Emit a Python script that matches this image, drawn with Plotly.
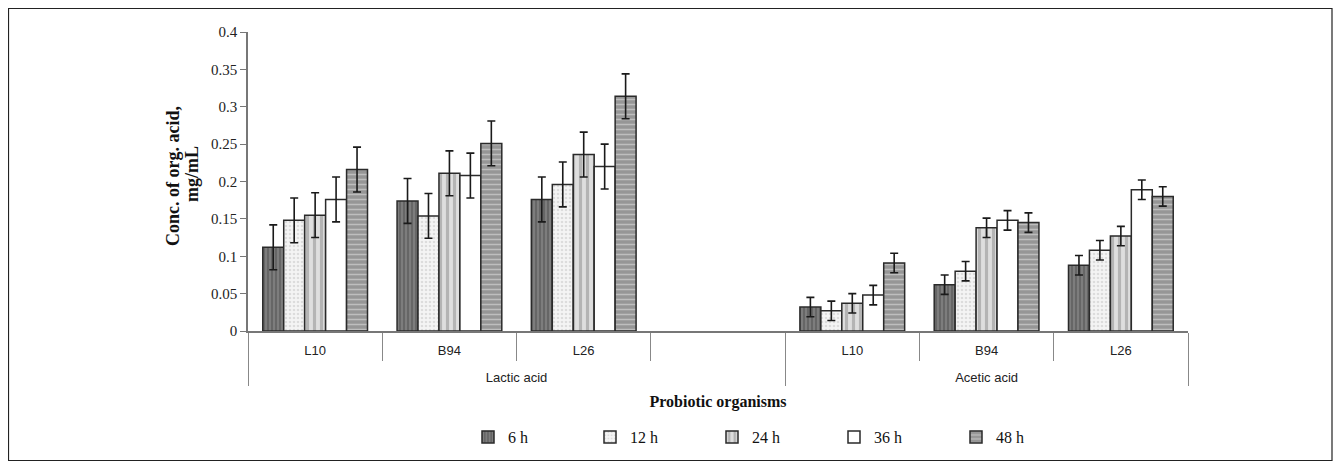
import plotly.graph_objects as go

acids = ["Lactic acid"] * 4 + ["Acetic acid"] * 3
strains = ["L10", "B94", "L26", " ", "L10", "B94", "L26"]
series_names = ["6 h", "12 h", "24 h", "36 h", "48 h"]

v6 = [0.112, 0.174, 0.176, None, 0.032, 0.062, 0.088]
v12 = [0.148, 0.154, 0.196, None, 0.027, 0.080, 0.108]
v24 = [0.155, 0.211, 0.236, None, 0.037, 0.138, 0.127]
v36 = [0.176, 0.208, 0.220, None, 0.048, 0.148, 0.189]
v48 = [0.216, 0.251, 0.314, None, 0.091, 0.145, 0.180]
err = [0.030, 0.030, 0.030, None, 0.013, 0.013, 0.013]

y_title_lines = ["Conc. of org. acid,", "mg/mL"]
x_title = "Probiotic organisms"

values = [v6, v12, v24, v36, v48]
styles = [
    dict(color="#707070", pattern=dict(shape="|", fgcolor="#a0a0a0", bgcolor="#666666", size=4, solidity=0.4)),
    dict(color="#efefef", pattern=dict(shape=".", fgcolor="#c4c4c4", bgcolor="#f4f4f4", size=4, solidity=0.35)),
    dict(color="#c0c0c0", pattern=dict(shape="|", fgcolor="#8a8a8a", bgcolor="#dedede", size=7, solidity=0.45)),
    dict(color="#ffffff"),
    dict(color="#9c9c9c", pattern=dict(shape="-", fgcolor="#e6e6e6", bgcolor="#969696", size=5, solidity=0.3)),
]

# outer (group) labels pushed one line lower, as in the reference
acid_labels = ["<br>" + a for a in acids]

W, H = 1325, 453
ML, MR, MT, MB = 240, 145, 24, 130
PW, PH = W - ML - MR, H - MT - MB


def px_x(x):  # figure pixel -> paper x
    return (x - ML) / PW


def px_y(y):  # figure pixel (from top) -> paper y
    return (PH + MT - y) / PH


fig = go.Figure()
for name, vals, st in zip(series_names, values, styles):
    marker = dict(color=st["color"], line=dict(color="#2a2a2a", width=1.5))
    if "pattern" in st:
        marker["pattern"] = st["pattern"]
    fig.add_trace(go.Bar(
        x=[acid_labels, strains], y=vals, name=name, marker=marker,
        error_y=dict(type="data", array=err, visible=True, color="#1a1a1a", thickness=1.6, width=4),
    ))

annotations = [
    dict(text="<b>%s</b>" % y_title_lines[0], xref="paper", yref="paper", x=px_x(165), y=px_y(168),
         textangle=-90, showarrow=False, xanchor="center", yanchor="middle",
         font=dict(family="Liberation Serif", size=18, color="#111111")),
    dict(text="<b>%s</b>" % y_title_lines[1], xref="paper", yref="paper", x=px_x(184), y=px_y(166),
         textangle=-90, showarrow=False, xanchor="center", yanchor="middle",
         font=dict(family="Liberation Serif", size=18, color="#111111")),
]

fig.update_layout(
    width=W, height=H,
    paper_bgcolor="white", plot_bgcolor="white",
    margin=dict(l=ML, r=MR, t=MT, b=MB, autoexpand=False),
    barmode="group", bargap=0.22, bargroupgap=0,
    font=dict(family="Liberation Serif", color="#111111"),
    showlegend=True,
    legend=dict(orientation="h", x=px_x(460), xanchor="left",
                yref="container", y=(H - 429) / H, yanchor="middle",
                font=dict(family="Liberation Serif", size=16, color="#111111"), entrywidth=77,
                bgcolor="rgba(0,0,0,0)"),
    annotations=annotations,
    shapes=[dict(type="rect", xref="paper", yref="paper",
                 x0=px_x(0.5), x1=px_x(W - 1), y0=px_y(H - 0.5), y1=px_y(0.5),
                 line=dict(color="#222222", width=1.2), fillcolor="rgba(0,0,0,0)", layer="below")],
)
fig.update_xaxes(
    type="multicategory", showline=True, linecolor="#777777", linewidth=1.5,
    ticks="outside", tickson="boundaries", ticklen=28, tickcolor="#888888",
    showdividers=True, dividercolor="#888888", dividerwidth=1,
    tickfont=dict(family="Liberation Sans", size=13, color="#222222"),
    ticklabelstandoff=7, automargin=False,
    title=dict(text="<b>%s</b>" % x_title, font=dict(family="Liberation Serif", size=16), standoff=12),
    showgrid=False,
)
fig.update_yaxes(
    range=[0, 0.4], dtick=0.05, showline=True, linecolor="#777777", linewidth=1.5,
    ticks="outside", ticklen=6, tickcolor="#777777", showgrid=False, zeroline=False,
    tickfont=dict(family="Liberation Serif", size=15, color="#222222"),
    automargin=False, title=dict(text=""),
)
fig.write_html("out.html")
